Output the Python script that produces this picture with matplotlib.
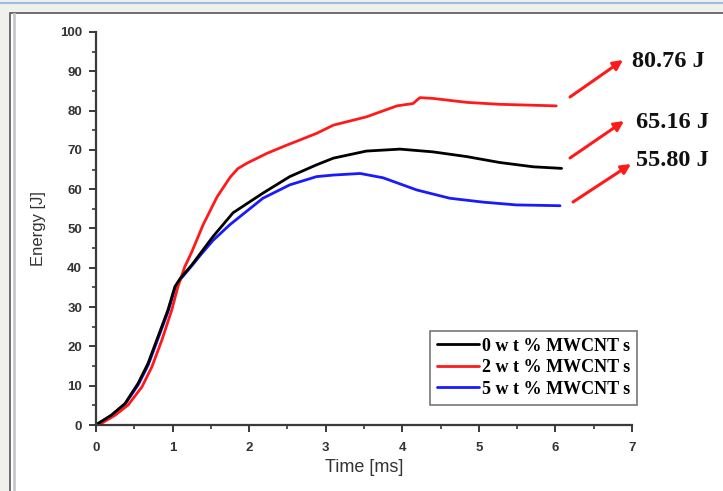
import matplotlib
matplotlib.use("Agg")
import matplotlib.pyplot as plt
from matplotlib.patches import Rectangle
from matplotlib.lines import Line2D
from matplotlib.ticker import MultipleLocator

# ---- data ----
t_black = [0, 0.03, 0.20, 0.38, 0.55, 0.68, 0.81, 0.94, 1.03, 1.10, 1.25, 1.38, 1.53, 1.79, 2.18, 2.53, 2.88, 3.10,
           3.53, 3.97, 4.40, 4.84, 5.27, 5.71, 6.08]
e_black = [0, 0.4, 2.5, 5.5, 10.6, 15.7, 22.5, 29.3, 35.2, 37.3, 40.7, 44.1, 48.0, 54.0, 59.0, 63.2, 66.2, 67.9,
           69.7, 70.2, 69.5, 68.3, 66.8, 65.7, 65.3]

t_red = [0, 0.07, 0.25, 0.42, 0.60, 0.73, 0.86, 0.99, 1.07, 1.16, 1.25, 1.40, 1.58, 1.75, 1.85, 1.97, 2.23, 2.49,
         2.66, 2.88, 3.10, 3.53, 3.93, 4.14, 4.23, 4.40, 4.84, 5.27, 6.01]
e_red = [0, 0.4, 2.5, 5.1, 9.7, 14.8, 21.6, 29.3, 35.2, 40.3, 44.0, 51.0, 58.0, 63.0, 65.2, 66.6, 69.1, 71.2,
         72.5, 74.2, 76.3, 78.4, 81.2, 81.8, 83.3, 83.1, 82.1, 81.6, 81.2]

t_blue = [0, 0.03, 0.20, 0.38, 0.55, 0.68, 0.81, 0.94, 1.03, 1.10, 1.25, 1.38, 1.53, 1.75, 2.18, 2.53, 2.88, 3.10,
          3.45, 3.75, 4.19, 4.62, 5.06, 5.49, 6.06]
e_blue = [0, 0.4, 2.4, 5.3, 10.2, 15.2, 22.0, 28.8, 34.6, 37.0, 40.5, 43.6, 47.0, 51.0, 57.7, 61.1, 63.2, 63.6,
          64.0, 62.9, 59.8, 57.7, 56.7, 56.0, 55.8]

labels = ["0 wt % MWCNTs", "2 wt % MWCNTs", "5 wt % MWCNTs"]
final_labels = ["80.76 J", "65.16 J", "55.80 J"]

x_ticks = [0, 1, 2, 3, 4, 5, 6, 7]
y_ticks = [0, 10, 20, 30, 40, 50, 60, 70, 80, 90, 100]

W, H = 723, 491
fig = plt.figure(figsize=(W / 100, H / 100), dpi=100)
fig.patch.set_facecolor("#f0f0ec")

# window chrome (behind the axes)
fig.add_artist(Line2D([0, 1], [1 - 2.5 / H, 1 - 2.5 / H], color="#9fbde3", lw=1.5,
                      transform=fig.transFigure, zorder=-10))
fig.add_artist(Rectangle((10 / W, -0.05), 1.0, 1 - 13 / H + 0.05, transform=fig.transFigure,
                         facecolor="white", edgecolor="#555555", lw=1.2, zorder=-10))
fig.add_artist(Line2D([14 / W, 14 / W], [0, 1 - 14 / H], color="#c8c8c8", lw=2,
                      transform=fig.transFigure, zorder=-9))

ax = fig.add_axes([96 / W, (H - 425) / H, (632 - 96) / W, (425 - 32) / H])
ax.set_facecolor("none")
ax.set_zorder(1)

kw = dict(lw=2, solid_joinstyle="round", solid_capstyle="round")
l_blue, = ax.plot(t_blue, e_blue, color="#1a1aff", **kw)
l_red, = ax.plot(t_red, e_red, color="#ff1a1a", **kw)
l_black, = ax.plot(t_black, e_black, color="black", **kw)

ax.set_xlim(0, 7)
ax.set_ylim(0, 100)
ax.set_xticks(x_ticks)
ax.set_yticks(y_ticks)
ax.xaxis.set_minor_locator(MultipleLocator(0.5))
ax.yaxis.set_minor_locator(MultipleLocator(5))
for s in ["top", "right"]:
    ax.spines[s].set_visible(False)
for s in ["left", "bottom"]:
    ax.spines[s].set_color("#3a3a3a")
    ax.spines[s].set_linewidth(1.6)
ax.tick_params(which="major", direction="out", length=5, width=1.4, color="#3a3a3a",
               labelsize=9.5, labelcolor="#333333")
ax.tick_params(axis="y", which="major", pad=5)
ax.tick_params(axis="x", which="major", pad=7)
ax.tick_params(which="minor", direction="out", length=3, width=1.2, color="#3a3a3a")
for lab in ax.get_xticklabels() + ax.get_yticklabels():
    lab.set_fontweight("bold")
    lab.set_family("Liberation Sans")

ax.set_xlabel("Time [ms]", fontsize=13, color="#333333", family="Liberation Sans", labelpad=4)
ax.set_ylabel("Energy [J]", fontsize=12, color="#333333", family="Liberation Sans", labelpad=10)

leg = ax.legend([l_black, l_red, l_blue], labels, loc="lower right",
                bbox_to_anchor=((637 - 96) / (632 - 96), (425 - 405) / (425 - 32)),
                prop={"family": "Liberation Serif", "weight": "bold", "size": 13},
                frameon=True, fancybox=False, handlelength=2.3, handletextpad=0.15,
                labelspacing=0.25, borderpad=0.4, borderaxespad=0)
leg.get_frame().set_edgecolor("#555555")
leg.get_frame().set_linewidth(1.2)
for txt in leg.get_texts():
    s = txt.get_text()
    txt.set_text(s.replace("wt", "w t").replace("MWCNTs", "MWCNT s"))

# annotations with arrows (pixel positions converted to data)
def px2data(px, py):
    return ((px - 96) / (632 - 96) * 7, (425 - py) / (425 - 32) * 100)

arrows = [((570, 97), (623, 60), (632, 62)),
          ((570, 158), (624, 121), (636, 122)),
          ((573, 202), (631, 164), (636, 161))]
for (s, e, tp), txt in zip(arrows, final_labels):
    ax.annotate("", xy=px2data(*e), xytext=px2data(*s), annotation_clip=False,
                arrowprops=dict(arrowstyle="-|>", color="#ff1a1a", lw=2.2, mutation_scale=14,
                                shrinkA=0, shrinkB=0))
    ax.text(*px2data(*tp), txt, family="Liberation Serif", weight="bold", fontsize=17.5,
            color="#111111", va="center", ha="left", clip_on=False)

fig.savefig("out.png", dpi=100, facecolor=fig.get_facecolor())
